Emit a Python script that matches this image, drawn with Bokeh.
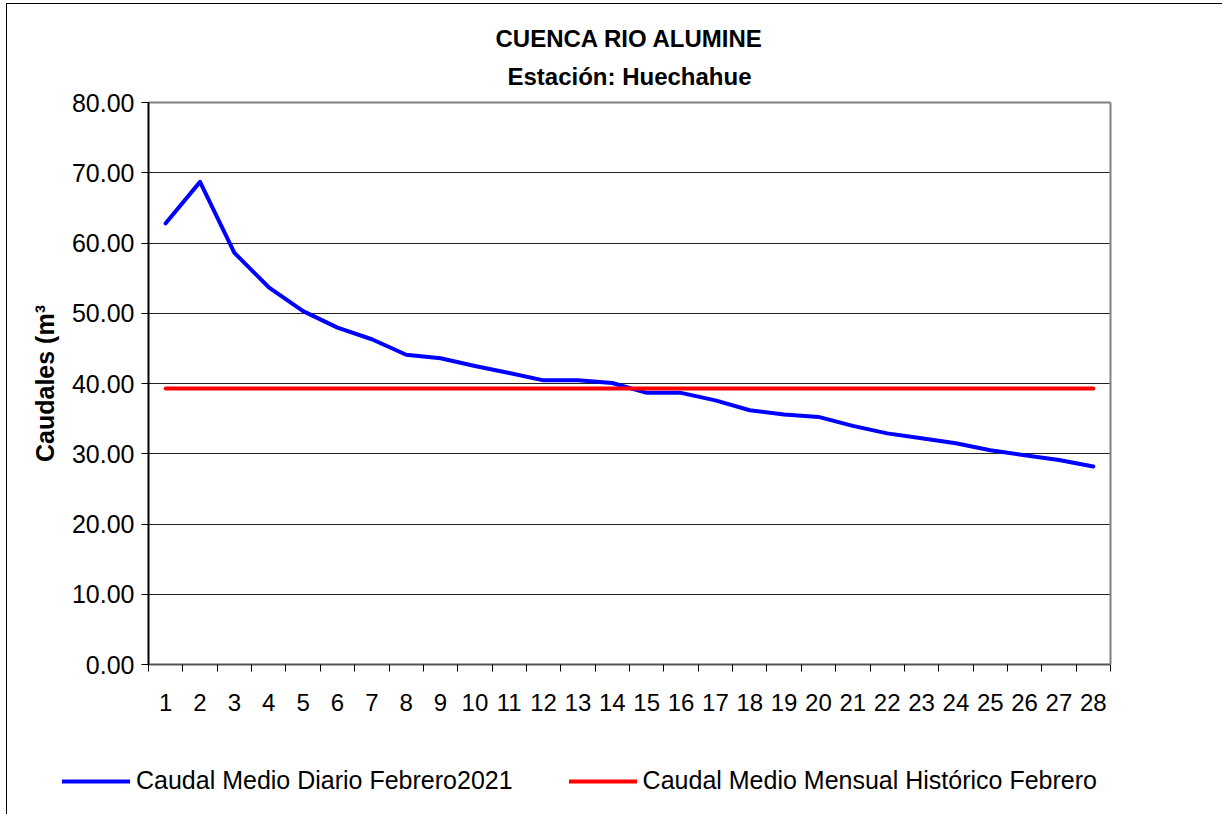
from bokeh.plotting import figure
from bokeh.models import (Legend, LegendItem, FixedTicker, NumeralTickFormatter, Label,
                          Range1d, LinearAxis)
from bokeh.embed import file_html
from bokeh.resources import INLINE

days = list(range(1, 29))
caudal_diario = [62.8, 68.7, 58.6, 53.7, 50.3, 47.95, 46.3, 44.1, 43.6, 42.5,
                 41.5, 40.45, 40.45, 40.07, 38.67, 38.67, 37.6, 36.2, 35.6, 35.25,
                 33.97, 32.9, 32.2, 31.5, 30.5, 29.8, 29.1, 28.2]
caudal_historico = [39.3, 39.3, 39.3, 39.3, 39.3, 39.3, 39.3, 39.3, 39.3, 39.3,
                    39.3, 39.3, 39.3, 39.3, 39.3, 39.3, 39.3, 39.3, 39.3, 39.3,
                    39.3, 39.3, 39.3, 39.3, 39.3, 39.3, 39.3, 39.3]
y_ticks = [0, 10, 20, 30, 40, 50, 60, 70, 80]
title_1 = "CUENCA RIO ALUMINE"
title_2 = "Estación: Huechahue"
y_label = "Caudales (m³"
legend_labels = ["Caudal Medio Diario Febrero2021", "Caudal Medio Mensual Histórico Febrero"]

FONT = "Liberation Sans"

x_lo, x_hi = days[0] - 0.5, days[-1] + 0.5
y_lo, y_hi = y_ticks[0], y_ticks[-1]

p = figure(width=1216, height=811, output_backend="svg", toolbar_location=None,
           x_range=Range1d(-3.604, 31.789), y_range=Range1d(-21.49, 93.95), title=None,
           min_border_left=0, min_border_right=0, min_border_top=0, min_border_bottom=0,
           styles={"border-left": "1px solid #000000", "border-top": "1px solid #000000",
                   "margin-left": "6px", "margin-top": "3px"})
p.background_fill_color = "white"
p.border_fill_color = "white"
p.outline_line_color = None

# grid
p.xgrid.grid_line_color = None
p.ygrid.grid_line_color = "#222222"
p.ygrid.grid_line_width = 1
p.ygrid.ticker = FixedTicker(ticks=y_ticks[1:-1])
if "cross_bounds" in p.ygrid.properties():
    p.ygrid.cross_bounds = (x_lo, x_hi)
else:
    p.ygrid.grid_line_color = None
    p.segment(x0=x_lo, y0=y_ticks[1:-1], x1=x_hi, y1=y_ticks[1:-1],
              line_color="#222222", line_width=1)

# y axis
p.yaxis.fixed_location = x_lo
p.yaxis.bounds = (y_lo, y_hi)
p.yaxis.ticker = FixedTicker(ticks=y_ticks)
p.yaxis.formatter = NumeralTickFormatter(format="0.00")
p.yaxis.axis_line_color = "#000000"
p.yaxis.axis_line_width = 2
p.yaxis.major_tick_out = 7
p.yaxis.major_tick_in = 0
p.yaxis.minor_tick_line_color = None
p.yaxis.major_label_text_font = FONT
p.yaxis.major_label_text_font_size = "25px"
p.yaxis.major_label_text_color = "#000000"
p.yaxis.major_label_standoff = 7
p.yaxis.axis_label = y_label
p.yaxis.axis_label_text_font = FONT
p.yaxis.axis_label_text_font_style = "bold"
p.yaxis.axis_label_text_font_size = "25px"
p.yaxis.axis_label_text_color = "#000000"
p.yaxis.axis_label_standoff = 10

# x axis
minor = [d - 0.5 for d in days] + [days[-1] + 0.5]
p.xaxis.fixed_location = y_lo
p.xaxis.bounds = (x_lo, x_hi)
p.xaxis.ticker = FixedTicker(ticks=days, minor_ticks=minor)
p.xaxis.axis_line_color = "#555555"
p.xaxis.axis_line_width = 2
p.xaxis.major_tick_line_color = None
p.xaxis.minor_tick_out = 7
p.xaxis.minor_tick_in = 0
p.xaxis.minor_tick_line_color = "#000000"
p.xaxis.major_label_text_font = FONT
p.xaxis.major_label_text_font_size = "24px"
p.xaxis.major_label_text_color = "#000000"
p.xaxis.major_label_standoff = 22

# frame edges (top and right) as bare axes
top_edge = LinearAxis(fixed_location=y_hi, bounds=(x_lo, x_hi), axis_line_color="#808080",
                      axis_line_width=2, major_tick_line_color=None, minor_tick_line_color=None,
                      major_label_text_font_size="0px", ticker=FixedTicker(ticks=[]))
right_edge = LinearAxis(fixed_location=x_hi, bounds=(y_lo, y_hi), axis_line_color="#808080",
                        axis_line_width=2, major_tick_line_color=None, minor_tick_line_color=None,
                        major_label_text_font_size="0px", ticker=FixedTicker(ticks=[]))
p.add_layout(top_edge, "above")
p.add_layout(right_edge, "right")

r1 = p.line(days, caudal_diario, line_color="#0000FF", line_width=4, line_join="round", line_cap="round")
r2 = p.line(days, caudal_historico, line_color="#FF0000", line_width=4, line_cap="round")

legend = Legend(items=[LegendItem(label=legend_labels[0], renderers=[r1]),
                       LegendItem(label=legend_labels[1], renderers=[r2])],
                orientation="horizontal", location=(55, 20),
                border_line_color=None, background_fill_alpha=0,
                padding=0, margin=0, spacing=56, glyph_width=68, glyph_height=24,
                label_standoff=6, label_text_font=FONT, label_text_font_size="25px",
                label_text_color="#000000")
p.add_layout(legend)

p.add_layout(Label(x=(x_lo + x_hi) / 2, y=89.1, text=title_1, text_align="center",
                   text_baseline="middle", text_font=FONT, text_font_style="bold",
                   text_font_size="24px", text_color="#000000"))
p.add_layout(Label(x=(x_lo + x_hi) / 2, y=83.7, text=title_2, text_align="center",
                   text_baseline="middle", text_font=FONT, text_font_style="bold",
                   text_font_size="24px", text_color="#000000"))

open("out.html", "w").write(file_html(p, INLINE))
